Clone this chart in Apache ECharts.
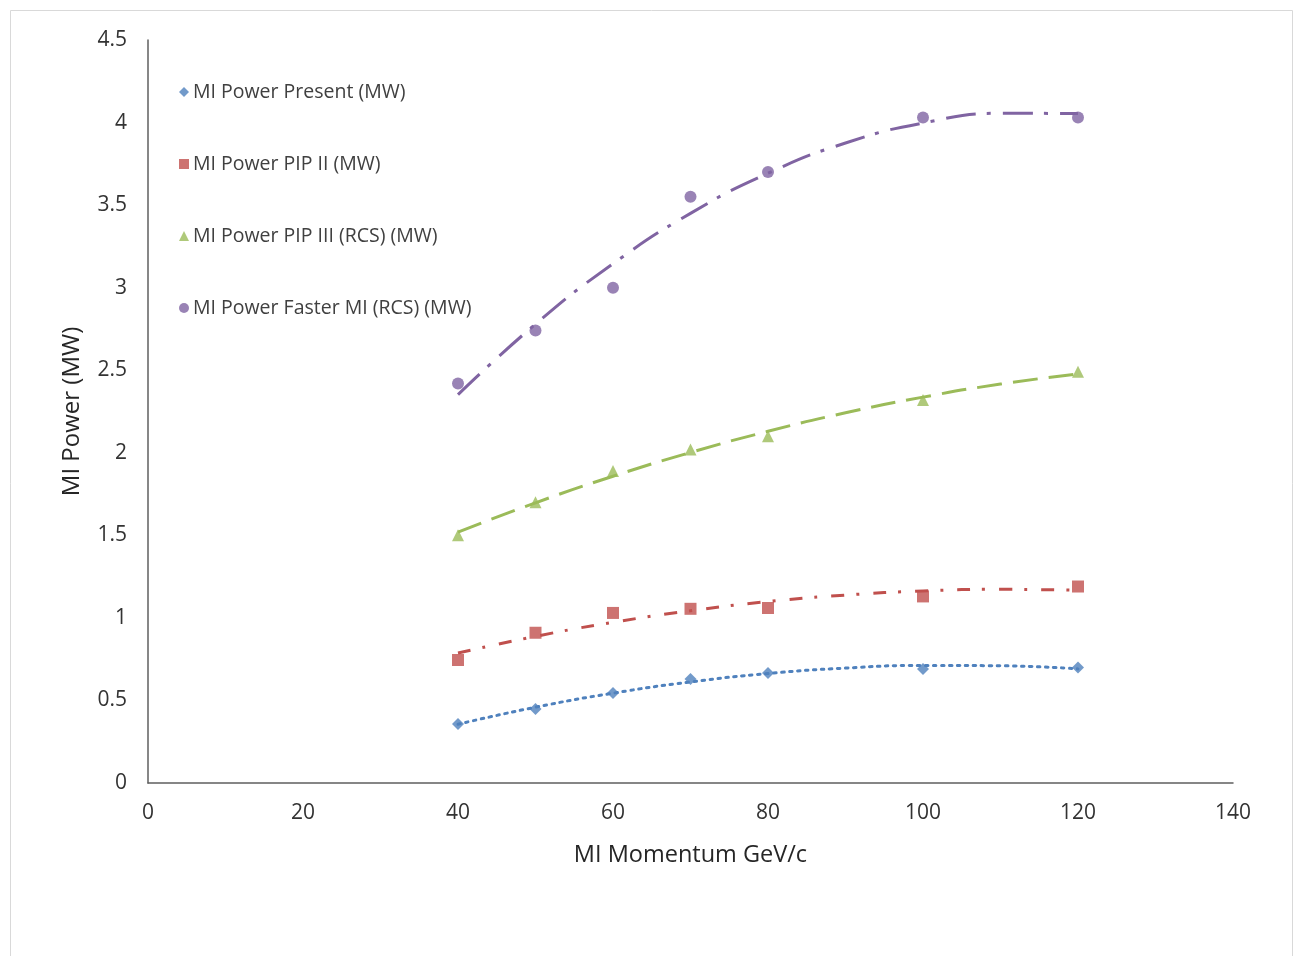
<!DOCTYPE html>
<html><head><meta charset="utf-8">
<script src="https://cdn.jsdelivr.net/npm/echarts@6/dist/echarts.min.js"></script>
<style>html,body{margin:0;padding:0;background:#fff}#c{width:1294px;height:956px}</style>
</head><body><div id="c"></div>
<script>
// Data
const momentum = [40, 50, 60, 70, 80, 100, 120];
const powerPresent = [0.357, 0.448, 0.545, 0.63, 0.666, 0.69, 0.70];
const powerPIP2 = [0.745, 0.91, 1.03, 1.055, 1.06, 1.13, 1.19];
const powerPIP3 = [1.50, 1.70, 1.89, 2.02, 2.10, 2.32, 2.49];
const powerFaster = [2.42, 2.74, 3.00, 3.55, 3.70, 4.03, 4.03];
// Trendline (polynomial) values
const trendX = [40, 50, 60, 70, 80, 90, 100, 110, 120];
const trendPresent = [0.356, 0.459, 0.544, 0.612, 0.663, 0.696, 0.712, 0.710, 0.691];
const trendPIP2 = [0.787, 0.888, 0.973, 1.043, 1.099, 1.138, 1.163, 1.173, 1.167];
const trendPIP3 = [1.519, 1.697, 1.858, 2.002, 2.130, 2.242, 2.337, 2.416, 2.478];
const trendFaster = [2.352, 2.779, 3.145, 3.450, 3.693, 3.876, 3.997, 4.056, 4.055];
const seriesNames = ['MI Power Present (MW)', 'MI Power PIP II (MW)', 'MI Power PIP III (RCS) (MW)', 'MI Power Faster MI (RCS) (MW)'];
const xTicks = [0, 140, 20];
const yTicks = [0, 4.5, 0.5];

const colors = ['#4F81BD', '#C0504D', '#9BBB59', '#8064A2'];
const zip = (xs, ys) => xs.map((x, i) => [x, ys[i]]);
const pts = [powerPresent, powerPIP2, powerPIP3, powerFaster];
const trends = [trendPresent, trendPIP2, trendPIP3, trendFaster];
const symbols = ['diamond', 'rect', 'triangle', 'circle'];
const symSizes = [12, 12, 12, 12];
const dashes = [[2.5, 5.5], [13, 12, 3, 14], [25, 11], [30, 11, 4, 12]];

const series = [];
for (let i = 0; i < 4; i++) {
  series.push({
    name: seriesNames[i] + ' trend', type: 'line', data: zip(trendX, trends[i]),
    smooth: true, showSymbol: false, silent: true, z: 2,
    lineStyle: { color: colors[i], width: 3, type: dashes[i], cap: i === 0 ? 'round' : 'butt' }
  });
}
for (let i = 0; i < 4; i++) {
  series.push({
    name: seriesNames[i], type: 'scatter', data: zip(momentum, pts[i]),
    symbol: symbols[i], symbolSize: symSizes[i], z: 3,
    itemStyle: { color: colors[i] }
  });
}

const chart = echarts.init(document.getElementById('c'), null, { renderer: 'canvas' });
chart.setOption({
  animation: false,
  backgroundColor: '#fff',
  graphic: [{ type: 'rect', shape: { x: 10.5, y: 10.5, width: 1282, height: 980 }, style: { fill: 'none', stroke: '#d9d9d9', lineWidth: 1 }, silent: true }],
  grid: { left: 148, right: 61, top: 40, bottom: 173, containLabel: false },
  legend: {
    data: seriesNames, orient: 'vertical', left: 174, top: 75,
    itemWidth: 10, itemHeight: 10, itemGap: 48,
    textStyle: { fontFamily: 'Open Sans', fontSize: 19.5, color: '#404040', lineHeight: 24, padding: [0, 0, 0, -1] }
  },
  xAxis: {
    type: 'value', min: xTicks[0], max: xTicks[1], interval: xTicks[2],
    name: 'MI Momentum GeV/c', nameLocation: 'middle', nameGap: 60,
    nameTextStyle: { fontFamily: 'Open Sans', fontSize: 23.5, color: '#262626' },
    axisLine: { show: true, lineStyle: { color: '#5f5f5f', width: 1.5 } },
    axisTick: { show: false }, splitLine: { show: false },
    axisLabel: { fontFamily: 'Open Sans', fontSize: 21, color: '#333', margin: 20 }
  },
  yAxis: {
    type: 'value', min: yTicks[0], max: yTicks[1], interval: yTicks[2],
    name: 'MI Power (MW)', nameLocation: 'middle', nameGap: 64, nameRotate: 90,
    nameTextStyle: { fontFamily: 'Open Sans', fontSize: 24, color: '#262626' },
    axisLine: { show: true, lineStyle: { color: '#5f5f5f', width: 1.5 } },
    axisTick: { show: false }, splitLine: { show: false },
    axisLabel: { fontFamily: 'Open Sans', fontSize: 21, color: '#333', margin: 21 }
  },
  series: series
});
</script></body></html>
